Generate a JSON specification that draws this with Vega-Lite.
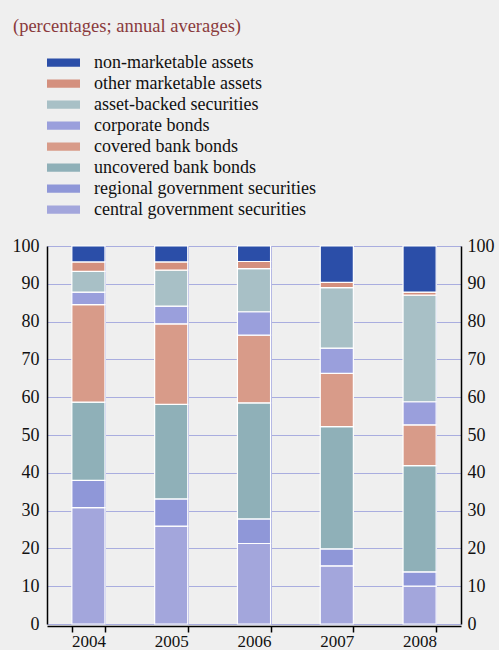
{
  "$schema": "https://vega.github.io/schema/vega-lite/v6.json",
  "width": 414,
  "height": 378,
  "autosize": "none",
  "padding": {"left": 47, "top": 246, "right": 38, "bottom": 26},
  "background": "#efefef",
  "title": {
    "text": "(percentages; annual averages)",
    "anchor": "start",
    "frame": "bounds",
    "font": "Liberation Serif",
    "fontSize": 18.5,
    "fontWeight": "normal",
    "color": "#8a3a3c",
    "dx": 1,
    "dy": -13
  },
  "data": {
    "values": [
      {"year": "2004", "cat": "central government securities", "ord": 1, "v": 30.8},
      {"year": "2004", "cat": "regional government securities", "ord": 2, "v": 7.2},
      {"year": "2004", "cat": "uncovered bank bonds", "ord": 3, "v": 20.7},
      {"year": "2004", "cat": "covered bank bonds", "ord": 4, "v": 25.8},
      {"year": "2004", "cat": "corporate bonds", "ord": 5, "v": 3.3},
      {"year": "2004", "cat": "asset-backed securities", "ord": 6, "v": 5.5},
      {"year": "2004", "cat": "other marketable assets", "ord": 7, "v": 2.5},
      {"year": "2004", "cat": "non-marketable assets", "ord": 8, "v": 4.2},
      {"year": "2005", "cat": "central government securities", "ord": 1, "v": 25.9},
      {"year": "2005", "cat": "regional government securities", "ord": 2, "v": 7.2},
      {"year": "2005", "cat": "uncovered bank bonds", "ord": 3, "v": 25.0},
      {"year": "2005", "cat": "covered bank bonds", "ord": 4, "v": 21.3},
      {"year": "2005", "cat": "corporate bonds", "ord": 5, "v": 4.7},
      {"year": "2005", "cat": "asset-backed securities", "ord": 6, "v": 9.5},
      {"year": "2005", "cat": "other marketable assets", "ord": 7, "v": 2.2},
      {"year": "2005", "cat": "non-marketable assets", "ord": 8, "v": 4.2},
      {"year": "2006", "cat": "central government securities", "ord": 1, "v": 21.3},
      {"year": "2006", "cat": "regional government securities", "ord": 2, "v": 6.5},
      {"year": "2006", "cat": "uncovered bank bonds", "ord": 3, "v": 30.7},
      {"year": "2006", "cat": "covered bank bonds", "ord": 4, "v": 17.9},
      {"year": "2006", "cat": "corporate bonds", "ord": 5, "v": 6.2},
      {"year": "2006", "cat": "asset-backed securities", "ord": 6, "v": 11.4},
      {"year": "2006", "cat": "other marketable assets", "ord": 7, "v": 1.9},
      {"year": "2006", "cat": "non-marketable assets", "ord": 8, "v": 4.1},
      {"year": "2007", "cat": "central government securities", "ord": 1, "v": 15.4},
      {"year": "2007", "cat": "regional government securities", "ord": 2, "v": 4.5},
      {"year": "2007", "cat": "uncovered bank bonds", "ord": 3, "v": 32.3},
      {"year": "2007", "cat": "covered bank bonds", "ord": 4, "v": 14.1},
      {"year": "2007", "cat": "corporate bonds", "ord": 5, "v": 6.7},
      {"year": "2007", "cat": "asset-backed securities", "ord": 6, "v": 16.0},
      {"year": "2007", "cat": "other marketable assets", "ord": 7, "v": 1.4},
      {"year": "2007", "cat": "non-marketable assets", "ord": 8, "v": 9.6},
      {"year": "2008", "cat": "central government securities", "ord": 1, "v": 10.0},
      {"year": "2008", "cat": "regional government securities", "ord": 2, "v": 3.8},
      {"year": "2008", "cat": "uncovered bank bonds", "ord": 3, "v": 28.1},
      {"year": "2008", "cat": "covered bank bonds", "ord": 4, "v": 10.8},
      {"year": "2008", "cat": "corporate bonds", "ord": 5, "v": 6.1},
      {"year": "2008", "cat": "asset-backed securities", "ord": 6, "v": 28.2},
      {"year": "2008", "cat": "other marketable assets", "ord": 7, "v": 0.8},
      {"year": "2008", "cat": "non-marketable assets", "ord": 8, "v": 12.2}
    ]
  },
  "encoding": {
    "x": {
      "field": "year",
      "type": "nominal",
      "scale": {"paddingInner": 0.6, "paddingOuter": 0.3},
      "axis": {
        "title": null,
        "labelAngle": 0,
        "labelFont": "Liberation Serif",
        "labelFontSize": 17,
        "labelColor": "#111",
        "labelPadding": 1,
        "domainColor": "#000",
        "domainWidth": 1.5,
        "tickBand": "extent",
        "tickColor": "#000",
        "tickWidth": 1.5,
        "tickSize": 6,
        "grid": true,
        "gridColor": "#a9addf",
        "gridWidth": 1,
        "offset": 2
      }
    }
  },
  "layer": [
    {
      "mark": {"type": "bar", "stroke": "white", "strokeWidth": 1.2},
      "encoding": {
        "y": {
          "field": "v",
          "type": "quantitative",
          "stack": "zero",
          "scale": {"domain": [0, 100], "nice": false},
          "axis": {
            "title": null,
            "orient": "left",
            "values": [0, 10, 20, 30, 40, 50, 60, 70, 80, 90, 100],
            "labelFont": "Liberation Serif",
            "labelFontSize": 18,
            "labelColor": "#111",
            "labelPadding": 8,
            "ticks": false,
            "domainColor": "#000",
            "domainWidth": 1.5,
            "grid": true,
            "gridColor": "#a9addf",
            "gridWidth": 1
          }
        },
        "order": {"field": "ord", "type": "quantitative"},
        "color": {
          "field": "cat",
          "type": "nominal",
          "scale": {
            "domain": [
              "non-marketable assets",
              "other marketable assets",
              "asset-backed securities",
              "corporate bonds",
              "covered bank bonds",
              "uncovered bank bonds",
              "regional government securities",
              "central government securities"
            ],
            "range": ["#2b4ea8", "#d4907e", "#a8c0c6", "#9a9fdc", "#d89b89", "#8fb0b8", "#8f97d8", "#a3a6dc"]
          },
          "legend": {
            "title": null,
            "orient": "none",
            "legendX": 0,
            "legendY": -194,
            "symbolType": "M-1,-0.25H1V0.25H-1Z",
            "symbolSize": 1089,
            "symbolStrokeWidth": 0,
            "labelFont": "Liberation Serif",
            "labelFontSize": 18,
            "labelColor": "#111",
            "labelOffset": 14,
            "labelLimit": 400,
            "clipHeight": 21,
            "rowPadding": 0,
            "symbolOffset": 0
          }
        }
      }
    },
    {
      "mark": {"type": "bar", "opacity": 0},
      "encoding": {
        "y": {
          "field": "v",
          "type": "quantitative",
          "stack": "zero",
          "scale": {"domain": [0, 100], "nice": false},
          "axis": {
            "title": null,
            "orient": "right",
            "values": [0, 10, 20, 30, 40, 50, 60, 70, 80, 90, 100],
            "labelFont": "Liberation Serif",
            "labelFontSize": 18,
            "labelColor": "#111",
            "labelPadding": 6,
            "ticks": false,
            "domainColor": "#000",
            "domainWidth": 1.5,
            "grid": false
          }
        }
      }
    }
  ],
  "resolve": {"axis": {"y": "independent"}},
  "config": {
    "view": {"stroke": null}
  }
}
